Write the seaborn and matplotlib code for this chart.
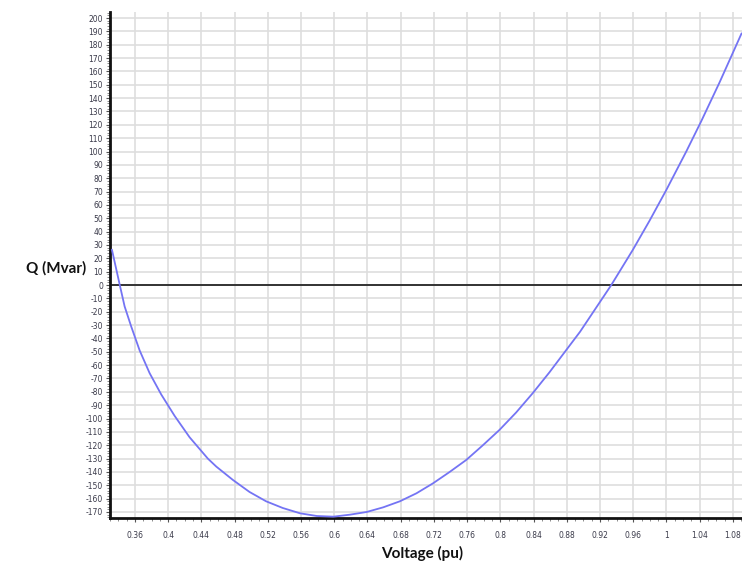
import matplotlib
matplotlib.use("Agg")
import matplotlib.pyplot as plt
from matplotlib.ticker import MultipleLocator, FuncFormatter
import seaborn as sns
import pandas as pd

voltage = [0.3323, 0.3416, 0.3476, 0.3555, 0.3657, 0.3777, 0.3917, 0.4078, 0.4258,
           0.4478, 0.458, 0.478, 0.498, 0.518, 0.538, 0.559, 0.579, 0.599, 0.619,
           0.639, 0.659, 0.679, 0.699, 0.719, 0.739, 0.759, 0.779, 0.799, 0.819,
           0.839, 0.859, 0.879, 0.896, 0.9336, 0.9596, 0.9797, 0.9997, 1.0238,
           1.042, 1.064, 1.0905]
q_mvar = [26.5, 0.5, -16, -31, -49, -66, -82, -98, -114,
          -130, -136, -146, -155, -162, -167, -171, -173, -173.5, -172,
          -170, -166.5, -162, -156, -148.5, -140, -131, -120, -108.5, -95.5,
          -81, -65.5, -49, -35, 0, 26.4, 48.2, 71.0, 99.9,
          122.8, 151.8, 188.5]

x_label = "Voltage (pu)"
y_label = "Q (Mvar)"

df = pd.DataFrame({"V": voltage, "Q": q_mvar})

sns.set_style("white")
plt.rcParams["font.family"] = ["DejaVu Sans"]

fig = plt.figure(figsize=(7.42, 5.68), dpi=100)
ax = fig.add_axes([110 / 742, 1 - 518 / 568, 1 - 110 / 742, (518 - 12) / 568])

ax.set_xlim(0.33, 1.091)
ax.set_ylim(-174.5, 204.5)

ax.xaxis.set_major_locator(MultipleLocator(0.04))
ax.xaxis.set_minor_locator(MultipleLocator(0.01))
ax.yaxis.set_major_locator(MultipleLocator(10))
ax.yaxis.set_minor_locator(MultipleLocator(2))

def fmt_x(v, pos):
    return f"{v:.2f}".rstrip("0").rstrip(".")
ax.xaxis.set_major_formatter(FuncFormatter(fmt_x))
ax.yaxis.set_major_formatter(FuncFormatter(lambda v, p: f"{v:.0f}"))

ax.grid(True, which="major", color="#dedede", linewidth=1.2)
ax.set_axisbelow(True)

ax.axhline(0, color="#333333", linewidth=1.4, zorder=2)

sns.lineplot(data=df, x="V", y="Q", ax=ax, color="#7474f4", linewidth=1.3, zorder=3)

for s in ["top", "right"]:
    ax.spines[s].set_visible(False)
for s in ["left", "bottom"]:
    ax.spines[s].set_color("#111111")
    ax.spines[s].set_linewidth(2.0)

ax.tick_params(axis="both", which="major", labelsize=5.5, labelcolor="#3a3a4a",
               length=3, width=0.8, color="#555555", direction="out", pad=2,
               bottom=True, left=True)
ax.tick_params(axis="both", which="minor", length=2, width=0.6, color="#777777",
               direction="out", bottom=True, left=True)
ax.tick_params(axis="x", which="major", pad=6)

ax.set_xlabel("")
ax.set_ylabel("")

fig.text(56 / 742, 1 - 268 / 568, y_label, ha="center", va="center",
         fontsize=11, fontweight="bold", family=["Lato", "DejaVu Sans"], color="#111111")
fig.text(422 / 742, 1 - 553 / 568, x_label, ha="center", va="center",
         fontsize=11, fontweight="bold", family=["Lato", "DejaVu Sans"], color="#111111")

fig.savefig("out.png", dpi=100)
